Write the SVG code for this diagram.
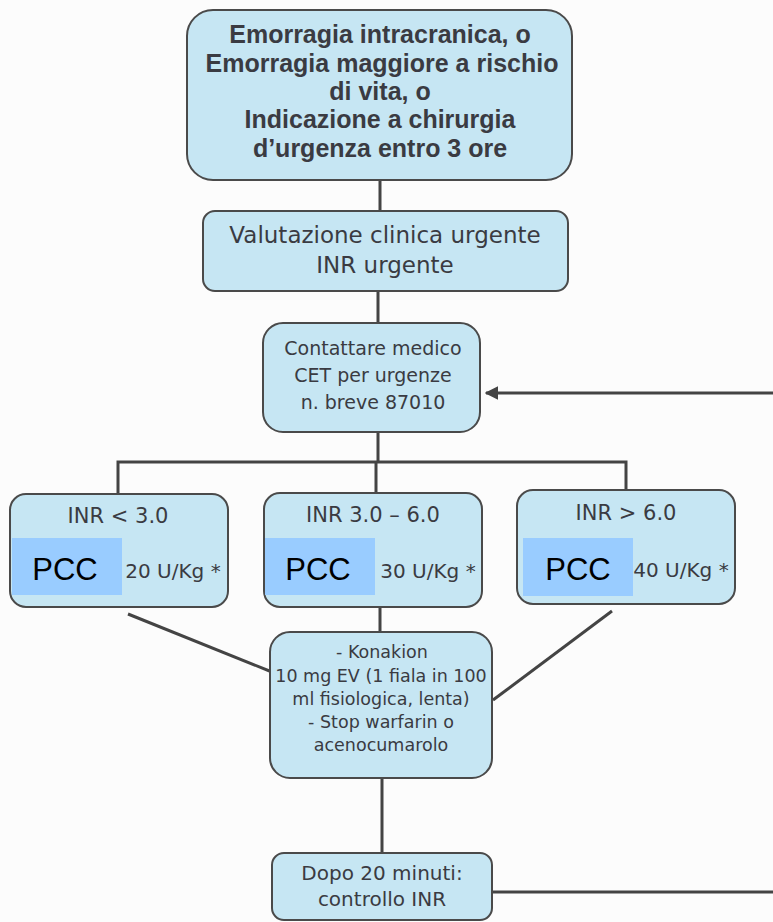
<svg xmlns="http://www.w3.org/2000/svg" width="773" height="922" viewBox="0 0 773 922">
<defs>
<style>
.box{fill:#c6e6f3;stroke:#4a4a4a;stroke-width:2}
.pcc{fill:#99ccff}
.t{font-family:"DejaVu Sans","Liberation Sans",sans-serif;fill:#3a3b42;text-anchor:middle}
.b{font-family:"Liberation Sans",Arial,sans-serif;font-weight:bold;font-size:25px;fill:#3a3b42;text-anchor:middle}
.p{font-family:"Liberation Sans",Arial,sans-serif;font-size:31px;fill:#000;text-anchor:middle}
.c{fill:none;stroke:#444;stroke-width:3}
</style>
<marker id="ah" viewBox="0 0 10 10" refX="9" refY="5" markerWidth="4.5" markerHeight="4.5" orient="auto">
<path d="M0,0 L10,5 L0,10 Z" fill="#444"/>
</marker>
</defs>
<rect width="773" height="922" fill="#fcfcfc"/>
<g id="connectors">
<line class="c" x1="380" y1="180" x2="380" y2="211"/>
<line class="c" x1="378" y1="291" x2="378" y2="323"/>
<line class="c" x1="378" y1="432" x2="378" y2="462"/>
<polyline class="c" points="118,494 118,462 626,462 626,490"/>
<line class="c" x1="376" y1="462" x2="376" y2="493"/>
<line class="c" x1="380" y1="607" x2="380" y2="632"/>
<line class="c" x1="128" y1="614" x2="272" y2="672"/>
<line class="c" x1="612" y1="611" x2="493" y2="700"/>
<line class="c" x1="382" y1="778" x2="382" y2="853"/>
<line class="c" x1="492" y1="892" x2="773" y2="892"/>
<line class="c" x1="773" y1="393" x2="486" y2="393" marker-end="url(#ah)"/>
</g>
<g id="n1">
<rect class="box" x="187" y="10" width="385" height="170" rx="26"/>
<text class="b" x="380" y="43">Emorragia intracranica, o</text>
<text class="b" x="382" y="72">Emorragia maggiore a rischio</text>
<text class="b" x="380" y="100">di vita, o</text>
<text class="b" x="380" y="128">Indicazione a chirurgia</text>
<text class="b" x="380" y="157">d’urgenza entro 3 ore</text>
</g>
<g id="n2">
<rect class="box" x="203" y="211" width="365" height="80" rx="12"/>
<text class="t" x="385" y="243" font-size="23">Valutazione clinica urgente</text>
<text class="t" x="385" y="273" font-size="23">INR urgente</text>
</g>
<g id="n3">
<rect class="box" x="263" y="323" width="217" height="109" rx="20"/>
<text class="t" x="373" y="355" font-size="19">Contattare medico</text>
<text class="t" x="373" y="382" font-size="19">CET per urgenze</text>
<text class="t" x="373" y="409" font-size="19">n. breve 87010</text>
</g>
<g id="n4">
<rect class="box" x="10" y="494" width="218" height="113" rx="16"/>
<text class="t" x="118" y="523" font-size="21">INR &lt; 3.0</text>
<rect class="pcc" x="12" y="538" width="110" height="57"/>
<text class="p" x="65" y="580">PCC</text>
<text class="t" x="173" y="578" font-size="20">20 U/Kg *</text>
</g>
<g id="n5">
<rect class="box" x="264" y="493" width="218" height="114" rx="16"/>
<text class="t" x="373" y="522" font-size="21">INR 3.0 – 6.0</text>
<rect class="pcc" x="265" y="538" width="110" height="57"/>
<text class="p" x="318" y="580">PCC</text>
<text class="t" x="428" y="578" font-size="20">30 U/Kg *</text>
</g>
<g id="n6">
<rect class="box" x="517" y="490" width="218" height="114" rx="16"/>
<text class="t" x="626" y="520" font-size="21">INR &gt; 6.0</text>
<rect class="pcc" x="523" y="538" width="110" height="58"/>
<text class="p" x="578" y="580">PCC</text>
<text class="t" x="681" y="577" font-size="20">40 U/Kg *</text>
</g>
<g id="n7">
<rect class="box" x="270" y="632" width="222" height="146" rx="20"/>
<text class="t" x="382" y="658" font-size="17.5">- Konakion</text>
<text class="t" x="381" y="682" font-size="17.5">10 mg EV (1 fiala in 100</text>
<text class="t" x="381" y="705" font-size="17.5">ml fisiologica, lenta)</text>
<text class="t" x="381" y="728" font-size="17.5">- Stop warfarin o</text>
<text class="t" x="381" y="751" font-size="17.5">acenocumarolo</text>
</g>
<g id="n8">
<rect class="box" x="272" y="853" width="220" height="67" rx="12"/>
<text class="t" x="382" y="880" font-size="20">Dopo 20 minuti:</text>
<text class="t" x="382" y="906" font-size="20">controllo INR</text>
</g>
</svg>
